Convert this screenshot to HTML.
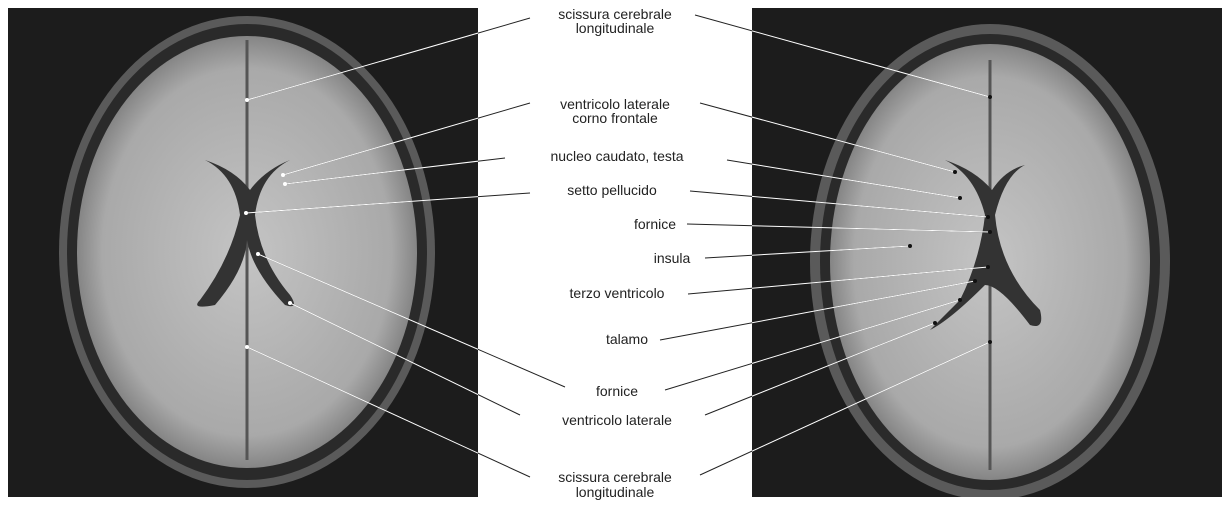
<!DOCTYPE html>
<html><head><meta charset="utf-8"><style>
html,body{margin:0;padding:0;background:#fff;}
svg{display:block}
text{font-family:"Liberation Sans",sans-serif;font-size:14px;fill:#222;text-anchor:middle}
</style></head><body>
<svg width="1231" height="508" viewBox="0 0 1231 508" xmlns="http://www.w3.org/2000/svg">
<defs>
<radialGradient id="g1" cx="50%" cy="50%" r="50%">
<stop offset="0%" stop-color="#c4c4c4"/><stop offset="85%" stop-color="#a9a9a9"/><stop offset="100%" stop-color="#858585"/>
</radialGradient>
<clipPath id="cl"><rect x="8" y="8" width="470" height="489"/></clipPath>
<clipPath id="cr"><rect x="752" y="8" width="470" height="489"/></clipPath>
<clipPath id="both"><rect x="8" y="8" width="470" height="489"/><rect x="752" y="8" width="470" height="489"/></clipPath>
<g id="lines">
<line x1="530" y1="18" x2="247" y2="100"/><line x1="695" y1="15" x2="990" y2="97"/>
<line x1="530" y1="103" x2="283" y2="175"/><line x1="700" y1="103" x2="955" y2="172"/>
<line x1="505" y1="158" x2="285" y2="184"/><line x1="727" y1="160" x2="960" y2="198"/>
<line x1="530" y1="193" x2="246" y2="213"/><line x1="690" y1="191" x2="988" y2="217"/>
<line x1="687" y1="224" x2="990" y2="232"/>
<line x1="705" y1="258" x2="910" y2="246"/>
<line x1="688" y1="294" x2="988" y2="267"/>
<line x1="660" y1="340" x2="975" y2="281"/>
<line x1="565" y1="387" x2="258" y2="254"/><line x1="665" y1="390" x2="960" y2="300"/>
<line x1="520" y1="415" x2="290" y2="303"/><line x1="705" y1="415" x2="935" y2="323"/>
<line x1="530" y1="477" x2="247" y2="347"/><line x1="700" y1="475" x2="990" y2="342"/>
</g>
</defs>
<rect x="8" y="8" width="470" height="489" fill="#1c1c1c"/>
<rect x="752" y="8" width="470" height="489" fill="#1c1c1c"/>
<g clip-path="url(#cl)">
<ellipse cx="247" cy="252" rx="188" ry="236" fill="#5a5a5a"/>
<ellipse cx="247" cy="252" rx="180" ry="228" fill="#2a2a2a"/>
<ellipse cx="247" cy="252" rx="170" ry="216" fill="url(#g1)"/>
<path d="M247 40 L247 460" stroke="#555" stroke-width="3"/>
<path d="M205 160 Q235 175 240 215 Q230 260 200 300 Q190 310 215 305 Q245 270 247 240 Q252 270 285 305 Q300 310 290 295 Q260 260 255 215 Q260 175 290 160 Q265 170 250 190 Q235 170 205 160Z" fill="#333"/>
</g>
<g clip-path="url(#cr)">
<ellipse cx="990" cy="262" rx="180" ry="238" fill="#5a5a5a"/>
<ellipse cx="990" cy="262" rx="170" ry="228" fill="#2a2a2a"/>
<ellipse cx="990" cy="262" rx="160" ry="218" fill="url(#g1)"/>
<path d="M990 60 L990 470" stroke="#555" stroke-width="3"/>
<path d="M945 160 Q975 175 985 215 Q980 260 960 300 Q940 320 930 330 Q950 320 985 285 Q1000 285 1030 325 Q1045 330 1040 310 Q1000 270 995 215 Q1005 175 1025 165 Q1005 170 992 190 Q975 170 945 160Z" fill="#333"/>
</g>
<use href="#lines" stroke="#222" stroke-width="1"/>
<use href="#lines" stroke="#fff" stroke-width="1" clip-path="url(#both)"/>
<g fill="#fff">
<circle cx="247" cy="100" r="2"/><circle cx="283" cy="175" r="2"/><circle cx="285" cy="184" r="2"/><circle cx="246" cy="213" r="2"/><circle cx="258" cy="254" r="2"/><circle cx="290" cy="303" r="2"/><circle cx="247" cy="347" r="2"/>
</g>
<g fill="#111">
<circle cx="990" cy="97" r="2"/><circle cx="955" cy="172" r="2"/><circle cx="960" cy="198" r="2"/><circle cx="988" cy="217" r="2"/><circle cx="990" cy="232" r="2"/><circle cx="910" cy="246" r="2"/><circle cx="988" cy="267" r="2"/><circle cx="975" cy="281" r="2"/><circle cx="960" cy="300" r="2"/><circle cx="935" cy="323" r="2"/><circle cx="990" cy="342" r="2"/>
</g>
<text x="615" y="19">scissura cerebrale</text>
<text x="615" y="33">longitudinale</text>
<text x="615" y="109">ventricolo laterale</text>
<text x="615" y="123">corno frontale</text>
<text x="617" y="161">nucleo caudato, testa</text>
<text x="612" y="195">setto pellucido</text>
<text x="655" y="229">fornice</text>
<text x="672" y="263">insula</text>
<text x="617" y="298">terzo ventricolo</text>
<text x="627" y="344">talamo</text>
<text x="617" y="396">fornice</text>
<text x="617" y="425">ventricolo laterale</text>
<text x="615" y="482">scissura cerebrale</text>
<text x="615" y="497">longitudinale</text>
</svg>
</body></html>
